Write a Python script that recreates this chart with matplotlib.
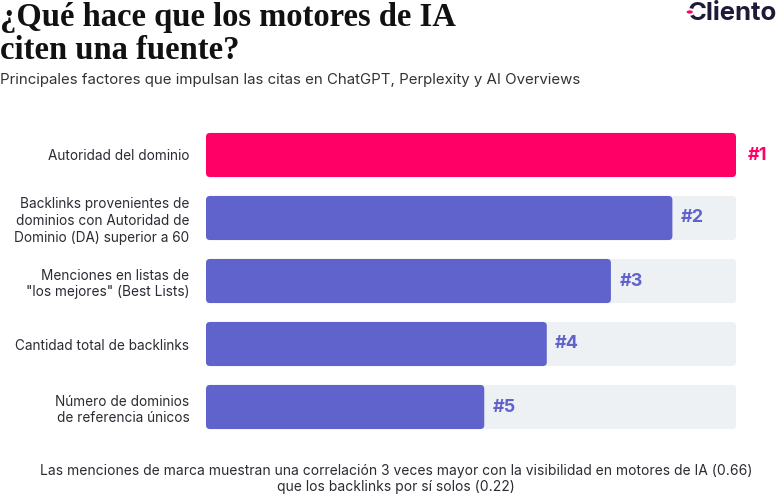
import matplotlib
matplotlib.use("Agg")
import matplotlib.pyplot as plt
from matplotlib.patches import FancyBboxPatch, Circle

# data
factores = [
    "Autoridad del dominio",
    "Backlinks provenientes de\ndominios con Autoridad de\nDominio (DA) superior a 60",
    "Menciones en listas de\n\"los mejores\" (Best Lists)",
    "Cantidad total de backlinks",
    "Número de dominios\nde referencia únicos",
]
valores = [100, 88, 76.4, 64.3, 52.5]
rangos = ["#1", "#2", "#3", "#4", "#5"]

PINK = "#FF0066"
PURPLE = "#5F63CB"
TRACK = "#EEF1F3"
DARK = "#2B2B33"

plt.rcParams['font.family'] = ['Inter', 'DejaVu Sans']

fig = plt.figure(figsize=(7.8, 5.04), dpi=100)
ax = fig.add_axes([206/780, 1 - 438.5/504, 530/780, 315/504])

y = list(range(len(factores)))
h = 0.70
tracks = ax.barh(y, [100]*len(y), height=h, color=TRACK, zorder=1)
bars = ax.barh(y, valores, height=h,
               color=[PINK] + [PURPLE]*(len(y)-1), zorder=2)

# swap plain rectangles for rounded ones
asp = (4/63) / 0.75
for group in (tracks, bars):
    for p in group.patches:
        rb = FancyBboxPatch((p.get_x(), p.get_y()), p.get_width(), p.get_height(),
                            boxstyle="round,pad=0,rounding_size=0.75",
                            mutation_aspect=asp, fc=p.get_facecolor(),
                            ec="none", zorder=p.get_zorder())
        p.set_visible(False)
        ax.add_patch(rb)

for i, (v, r) in enumerate(zip(valores, rangos)):
    if i == 0:
        ax.text(v + 2.2, i, r, color=PINK, fontsize=13, fontweight='bold',
                va='center', ha='left')
    else:
        ax.text(v + 1.6, i, r, color=PURPLE, fontsize=13, fontweight='bold',
                va='center', ha='left')

ax.set_xlim(0, 100)
ax.set_ylim(len(y) - 0.5, -0.5)
ax.set_yticks(y)
ax.set_yticklabels(factores, fontsize=9.8, color=DARK, ha='right',
                   linespacing=1.25)
ax.tick_params(axis='y', length=0, pad=12)
ax.set_xticks([])
for s in ax.spines.values():
    s.set_visible(False)

# title / subtitle
fig.text(0.0, 1 - 2/504, "¿Qué hace que los motores de IA\nciten una fuente?",
         family=['Liberation Serif'], fontweight='bold', fontsize=23.5,
         color="#111111", ha='left', va='top', linespacing=1.08)
fig.text(0.0, 1 - 80/504,
         "Principales factores que impulsan las citas en ChatGPT, Perplexity y AI Overviews",
         fontsize=10.8, color="#333333", ha='left', va='center')

# logo
logo = fig.text(1 - 3/780, 1 - 20/504, "Cliento", fontsize=18.5, fontweight='bold',
                color="#1E1B3A", ha='right', va='baseline')
fig.canvas.draw()
bb = logo.get_window_extent()
fig.patches.append(Circle(((bb.x0 + 2) / 780, 1 - 12/504), 4.2/780,
                          transform=fig.transFigure,
                          fc=PINK, ec='white', lw=1.5, zorder=5))

# footer
fig.text(396/780, 1 - 479/504,
         "Las menciones de marca muestran una correlación 3 veces mayor con la visibilidad en motores de IA (0.66)\n"
         "que los backlinks por sí solos (0.22)",
         fontsize=10, color=DARK, ha='center', va='center', linespacing=1.25)

fig.savefig("out.png", dpi=100, facecolor="white")
